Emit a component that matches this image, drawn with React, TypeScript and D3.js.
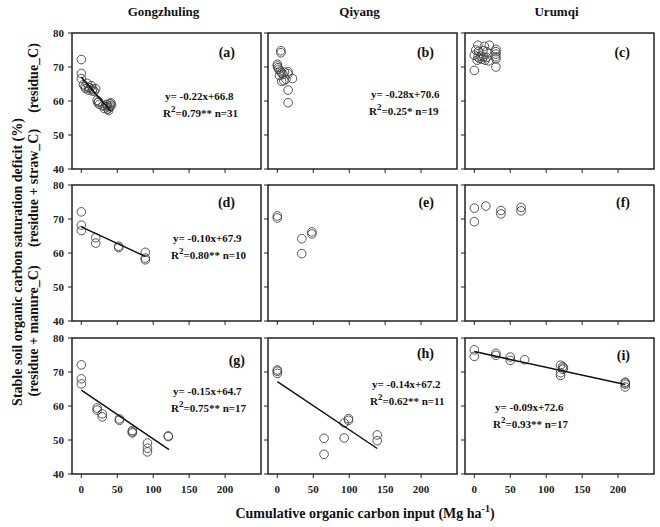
import * as d3 from "d3";
import React from "react";

// sites (columns) and treatments (rows)
const sites = ["Gongzhuling", "Qiyang", "Urumqi"];
const treatments = ["(residue_C)", "(residue + straw_C)", "(residue + manure_C)"];
const letters = ["(a)", "(b)", "(c)", "(d)", "(e)", "(f)", "(g)", "(h)", "(i)"];
const xTicks = [0, 50, 100, 150, 200];
const yTicks = [40, 50, 60, 70, 80];

// [cumulative C input, saturation deficit]
const pointsA: [number, number][] = [
  [0, 72.2], [0, 68.1], [0, 66.6], [3, 64.8], [5, 64.2], [6, 63.7], [8, 65.2], [10, 64.0],
  [10, 63.2], [12, 63.8], [14, 64.5], [15, 63.0], [16, 63.5], [18, 62.8], [20, 63.6],
  [22, 60.2], [23, 59.5], [24, 59.8], [25, 59.0], [30, 58.6], [32, 57.8], [34, 58.3],
  [36, 58.8], [38, 57.2], [39, 58.0], [40, 59.2], [40, 58.5], [41, 59.5], [42, 58.8],
  [37, 57.6], [35, 59.0],
];
const pointsB: [number, number][] = [
  [5, 74.8], [5, 74.2], [0, 70.8], [0, 70.3], [1, 69.8], [2, 69.3], [4, 68.8], [6, 68.2],
  [8, 67.8], [3, 67.5], [10, 68.5], [15, 68.6], [15, 68.0], [21, 66.6], [12, 66.4],
  [6, 65.8], [9, 66.0], [15, 63.2], [15, 59.5],
];
const pointsC: [number, number][] = [
  [5, 76.4], [14, 76.1], [21, 76.4], [2, 75.0], [6, 74.6], [12, 74.8], [17, 74.5], [0, 73.5],
  [5, 73.0], [9, 73.2], [13, 73.0], [17, 72.8], [4, 72.0], [7, 72.5], [11, 72.3], [15, 72.0],
  [20, 71.8], [30, 75.2], [30, 74.5], [30, 73.8], [30, 73.0], [30, 72.4], [0, 69.0], [30, 70.0],
];
const pointsD: [number, number][] = [
  [0, 72.1], [0, 68.2], [0, 66.6], [20, 64.5], [20, 62.9], [52, 62.0], [52, 61.6],
  [89, 60.2], [89, 58.5], [89, 58.0],
];
const pointsE: [number, number][] = [
  [0, 70.9], [0, 70.3], [34, 64.2], [34, 59.8], [48, 66.2], [48, 65.6],
];
const pointsF: [number, number][] = [
  [0, 73.2], [0, 69.2], [16, 73.8], [37, 72.5], [37, 71.5], [65, 73.4], [65, 72.4],
];
const pointsG: [number, number][] = [
  [0, 72.1], [0, 68.0], [0, 66.5], [22, 59.4], [22, 58.8], [29, 57.7], [29, 56.8],
  [53, 56.2], [53, 55.8], [71, 52.8], [71, 52.1], [71, 52.4], [92, 49.1], [92, 47.6],
  [92, 46.5], [121, 51.2], [121, 51.0],
];
const pointsH: [number, number][] = [
  [0, 70.6], [0, 70.2], [0, 69.6], [65, 50.5], [65, 45.8], [93, 50.6], [93, 55.0],
  [99, 56.3], [99, 55.8], [139, 51.5], [139, 49.8],
];
const pointsI: [number, number][] = [
  [0, 76.5], [0, 74.6], [30, 75.5], [30, 74.9], [50, 74.4], [50, 73.4], [70, 73.6],
  [120, 72.0], [123, 71.6], [123, 70.8], [120, 69.8], [120, 69.0], [124, 71.2],
  [210, 67.0], [210, 66.4], [210, 65.6], [210, 66.8],
];

// drawn fit lines [x0, y0, x1, y1], null = no line
const fitLines: (number[] | null)[] = [
  [0, 67.0, 41, 57.0], null, null,
  [0, 67.7, 89, 59.0], null, null,
  [0, 64.7, 122, 47.2], [0, 67.2, 139, 47.5], [0, 76.0, 210, 66.3],
];
const equations = ["y= -0.22x+66.8", "y= -0.28x+70.6", "", "y= -0.10x+67.9", "", "", "y= -0.15x+64.7", "y= -0.14x+67.2", "y= -0.09x+72.6"];
const r2Values = ["0.79**", "0.25*", "", "0.80**", "", "", "0.75**", "0.62**", "0.93**"];
const nValues = [31, 19, 0, 10, 0, 0, 17, 11, 17];

const allPoints = [pointsA, pointsB, pointsC, pointsD, pointsE, pointsF, pointsG, pointsH, pointsI];

const colLeft = [72, 268, 465];
const rowTop = [33, 185, 338];
const panelW = 189;
const panelH = 136;
// equation offsets [dx, dy] from panel top-left
const eqPos = [[93, 67], [103, 65], [0, 0], [101, 57], [0, 0], [0, 0], [101, 57], [104, 50], [30, 73]];
// letter offsets [fromRight, baselineFromTop]
const letterPos = [[26, 24], [23, 24], [24, 24], [26, 22], [23, 22], [24, 22], [16, 27], [23, 20], [24, 22]];

const font = "'Liberation Serif', 'Times New Roman', serif";

const App = (): React.ReactElement => {
  const x = d3.scaleLinear().domain([-13, 250]).range([0, panelW]);
  const y = d3.scaleLinear().domain([40, 80]).range([panelH, 0]);

  const panels = allPoints.map((pts, i) => {
    const row = Math.floor(i / 3);
    const col = i % 3;
    const fit = fitLines[i];
    const line = d3
      .line<number[]>()
      .x((d) => x(d[0]))
      .y((d) => y(d[1]));
    return (
      <g key={i} transform={`translate(${colLeft[col]},${rowTop[row]})`}>
        <rect x={0} y={0} width={panelW} height={panelH} fill="none" stroke="#222" strokeWidth={1.5} />
        {yTicks.map((t) => (
          <line key={"y" + t} x1={-4} x2={0} y1={y(t)} y2={y(t)} stroke="#222" strokeWidth={1} />
        ))}
        {xTicks.map((t) => (
          <line key={"x" + t} x1={x(t)} x2={x(t)} y1={panelH} y2={panelH + 4} stroke="#222" strokeWidth={1} />
        ))}
        {col === 0 &&
          yTicks.map((t) => (
            <text key={"yl" + t} x={-8} y={y(t) + 4} textAnchor="end" fontSize={11} fontWeight="bold" fontFamily={font} fill="#222">
              {t}
            </text>
          ))}
        {row === 2 &&
          xTicks.map((t) => (
            <text key={"xl" + t} x={x(t)} y={panelH + 19} textAnchor="middle" fontSize={11} fontWeight="bold" fontFamily={font} fill="#222">
              {t}
            </text>
          ))}
        {pts.map((p, j) => (
          <circle key={j} cx={x(p[0])} cy={y(p[1])} r={4.3} fill="none" stroke="#444" strokeWidth={0.9} />
        ))}
        {fit && (
          <path d={line([[fit[0], fit[1]], [fit[2], fit[3]]]) || ""} stroke="#111" strokeWidth={1.5} fill="none" />
        )}
        <text x={panelW - letterPos[i][0]} y={letterPos[i][1]} textAnchor="end" fontSize={14} fontWeight="bold" fontFamily={font} fill="#111">
          {letters[i]}
        </text>
        {equations[i] && (
          <text x={eqPos[i][0]} y={eqPos[i][1]} fontSize={11} fontWeight="bold" fontFamily={font} fill="#111">
            {equations[i]}
          </text>
        )}
        {equations[i] && (
          <text x={eqPos[i][0] - 2} y={eqPos[i][1] + 17} fontSize={11} fontWeight="bold" fontFamily={font} fill="#111">
            R<tspan dy={-5} fontSize={9}>2</tspan>
            <tspan dy={5}>{"=" + r2Values[i] + " n=" + nValues[i]}</tspan>
          </text>
        )}
      </g>
    );
  });

  return (
    <svg width={660} height={527} style={{ position: "absolute", left: 0, top: 0, background: "#fff" }}>
      {sites.map((s, c) => (
        <text key={s} x={colLeft[c] + panelW / 2 - 3} y={16} textAnchor="middle" fontSize={13} fontWeight="bold" fontFamily={font} fill="#111">
          {s}
        </text>
      ))}
      {panels}
      <text x={365} y={518} textAnchor="middle" fontSize={14} fontWeight="bold" fontFamily={font} fill="#111">
        Cumulative organic carbon input (Mg ha
        <tspan dy={-6} fontSize={10}>-1</tspan>
        <tspan dy={6}>)</tspan>
      </text>
      <text transform="translate(22,262) rotate(-90)" textAnchor="middle" fontSize={14} fontWeight="bold" fontFamily={font} fill="#111">
        Stable soil organic carbon saturation deficit (%)
      </text>
      {[78, 188, 331].map((cy, r) => (
        <text key={r} transform={`translate(38,${cy}) rotate(-90)`} textAnchor="middle" fontSize={14} fontWeight="bold" fontFamily={font} fill="#111">
          {treatments[r]}
        </text>
      ))}
    </svg>
  );
};

export default App;
